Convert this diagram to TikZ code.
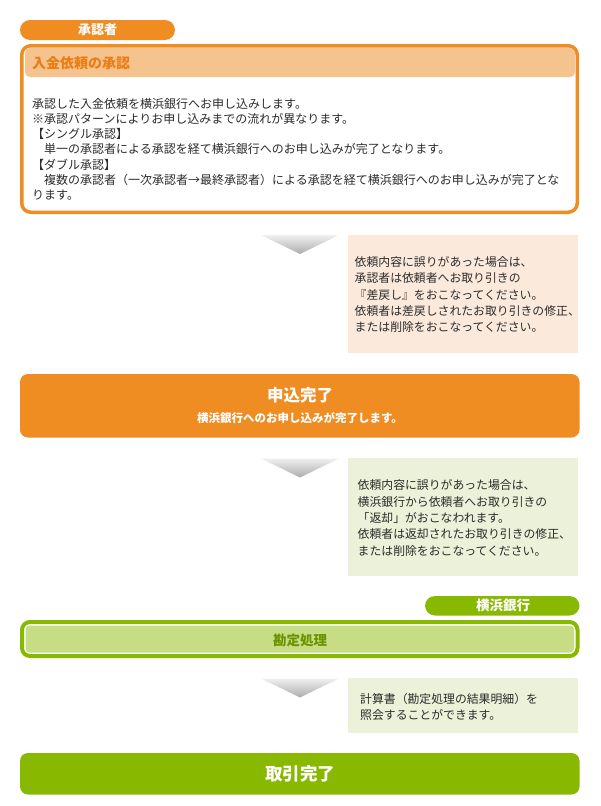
\documentclass[tikz,border=0pt]{standalone}
\usepackage{fontspec}
\setmainfont{Noto Sans CJK JP}
\usepackage{tikz}
\definecolor{apporange}{HTML}{EF8C22}
\definecolor{apporangelt}{HTML}{F5C48E}
\definecolor{apporangetxt}{HTML}{EC7C14}
\definecolor{notepeach}{HTML}{FBEADC}
\definecolor{appgreen}{HTML}{88B900}
\definecolor{appgreenlt}{HTML}{C6DD85}
\definecolor{appgreentxt}{HTML}{6B9300}
\definecolor{notelime}{HTML}{ECF1D9}
\definecolor{bodytxt}{HTML}{2B2B2B}

\begin{document}
\begin{tikzpicture}[line cap=round,line join=round,x=1pt,y=-1pt,
    bodytext/.style={anchor=north west,align=left,inner sep=0pt,text=bodytxt,font=\fontsize{12}{15.3}\selectfont},
    notetext/.style={anchor=north west,align=left,inner sep=0pt,text=bodytxt,font=\fontsize{11.85}{16.3}\selectfont},
    downtri/.style={top color=gray!12,bottom color=gray!65,draw=none}]
      \useasboundingbox (0,0) rectangle (600,806);
      % approver
      \fill[color=apporange,rounded corners=10pt] (20,20) rectangle (175,40);
      \node[text=white,font=\fontsize{13}{14}\selectfont\bfseries] (approver) at (97.5,30) {承認者};
      \draw[color=apporange,line width=3.5pt,rounded corners=9pt,fill=white] (21.75,45.75) rectangle (577.25,212.25);
      \fill[color=apporangelt,rounded corners=5pt] (25,48) rectangle (575,77);
      \node[anchor=west,inner sep=0pt,text=apporangetxt,font=\fontsize{14}{16}\selectfont\bfseries] (approval) at (32,63.5) {入金依頼の承認};
      \node[bodytext] (approvalbody) at (32,97.8) {承認した入金依頼を横浜銀行へお申し込みします。\\
        ※承認パターンによりお申し込みまでの流れが異なります。\\
        【シングル承認】\\
        　単一の承認者による承認を経て横浜銀行へのお申し込みが完了となります。\\
        【ダブル承認】\\
        　複数の承認者（一次承認者→最終承認者）による承認を経て横浜銀行へのお申し込みが完了とな\\
        ります。};
      % remand
      \shade[downtri] (261,235) -- (339,235) -- (300,254) -- cycle;
      \fill[color=notepeach] (348,235) rectangle (577.5,352.5);
      \node[notetext] (remand) at (354.5,256.4) {依頼内容に誤りがあった場合は、\\
        承認者は依頼者へお取り引きの\\
        『差戻し』をおこなってください。\\
        依頼者は差戻しされたお取り引きの修正、\\
        または削除をおこなってください。};
      % applied
      \fill[color=apporange,rounded corners=8pt] (20,374) rectangle (579.5,437.5);
      \node[text=white,font=\fontsize{16.5}{18}\selectfont\bfseries] (applied) at (300,395) {申込完了};
      \node[text=white,font=\fontsize{11.5}{13}\selectfont\bfseries] (appliedsub) at (300,418.5) {横浜銀行へのお申し込みが完了します。};
      % returned
      \shade[downtri] (261,458.5) -- (339,458.5) -- (300,477.5) -- cycle;
      \fill[color=notelime] (348,458) rectangle (577.5,575.5);
      \node[notetext] (returned) at (357.5,479.7) {依頼内容に誤りがあった場合は、\\
        横浜銀行から依頼者へお取り引きの\\
        「返却」がおこなわれます。\\
        依頼者は返却されたお取り引きの修正、\\
        または削除をおこなってください。};
      % bank
      \fill[color=appgreen,rounded corners=10pt] (425,596) rectangle (579.5,615.5);
      \node[text=white,font=\fontsize{13.5}{15}\selectfont\bfseries] (bank) at (503,605.8) {横浜銀行};
      \draw[color=appgreen,line width=4pt,rounded corners=8pt,fill=white] (22,622) rectangle (577.5,656);
      \fill[color=appgreenlt,rounded corners=4pt] (25.5,625.5) rectangle (574,652.5);
      \node[text=appgreentxt,font=\fontsize{13.5}{15}\selectfont\bfseries] (booking) at (300,640) {勘定処理};
      % statement
      \shade[downtri] (261,678.5) -- (339,678.5) -- (300,697.5) -- cycle;
      \fill[color=notelime] (348,678) rectangle (577.5,733);
      \node[notetext] (statement) at (360,693) {計算書（勘定処理の結果明細）を\\
        照会することができます。};
      % done
      \fill[color=appgreen,rounded corners=8pt] (20,753) rectangle (579.5,794.5);
      \node[text=white,font=\fontsize{17.5}{19}\selectfont\bfseries] (done) at (300,774) {取引完了};
    \end{tikzpicture}
\end{document}
